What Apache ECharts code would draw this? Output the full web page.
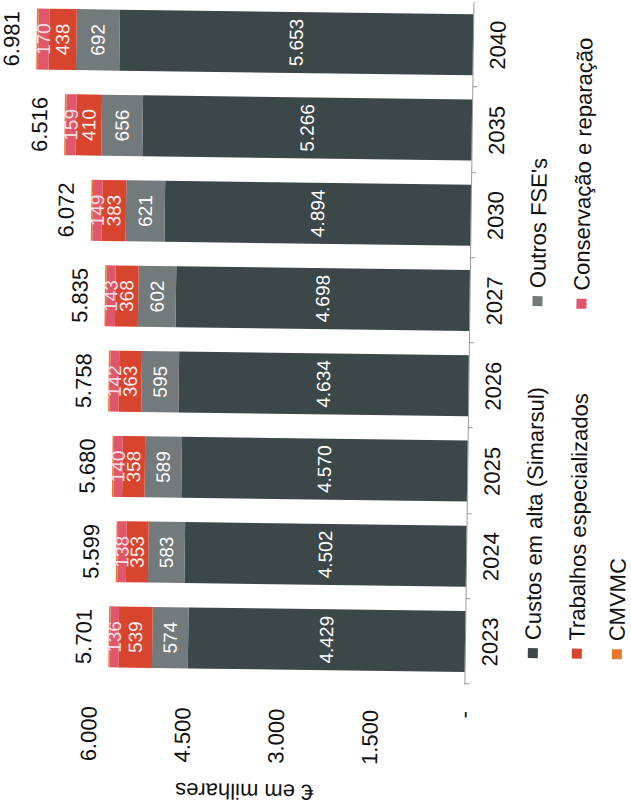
<!DOCTYPE html>
<html>
<head>
<meta charset="utf-8">
<script src="https://cdn.jsdelivr.net/npm/echarts@6/dist/echarts.min.js"></script>
<style>
html, body { margin: 0; padding: 0; background: #ffffff; overflow: hidden; }
#wrap { position: absolute; left: 0; top: 0; width: 812px; height: 631px;
        transform-origin: 0 0; transform: translateY(812px) rotate(-90deg); }
#chart { position: absolute; left: 0; top: -30px; width: 812px; height: 661px;
         transform-origin: 173px 330px; transform: rotate(0.76deg); }
</style>
</head>
<body>
<div id="wrap"><div id="chart"></div></div>
<script>
const categories = ['2023', '2024', '2025', '2026', '2027', '2030', '2035', '2040'];
const custosSimarsul = [4429, 4502, 4570, 4634, 4698, 4894, 5266, 5653];
const outrosFSE = [574, 583, 589, 595, 602, 621, 656, 692];
const trabalhosEsp = [539, 353, 358, 363, 368, 383, 410, 438];
const conservacao = [136, 138, 140, 142, 143, 149, 159, 170];
const cmvmc = [23, 23, 23, 24, 24, 25, 25, 28];
const totals = [5701, 5599, 5680, 5758, 5835, 6072, 6516, 6981];
const seriesNames = ['Custos em alta (Simarsul)', "Outros FSE's", 'Trabalhos especializados', 'Conservação e reparação', 'CMVMC'];

function fmt(v) {
  if (v === 0) return '-';
  const s = String(Math.round(v));
  return s.replace(/\B(?=(\d{3})+(?!\d))/g, '.');
}

const FONT = 'Liberation Sans, Arial, sans-serif';
const colors = ['#3b4749', '#737a7c', '#d8452f', '#e0566a', '#e8782a'];
const BW = 61;
const OFF = 30;

function segLabel(show, color) {
  return {
    show: show, position: 'inside', color: color || '#ffffff',
    fontFamily: FONT, fontSize: 19,
    formatter: p => fmt(p.value)
  };
}

const chart = echarts.init(document.getElementById('chart'), null, { renderer: 'svg' });

const legendRows = [
  { name: seriesNames[0], left: 157, top: 522 },
  { name: seriesNames[1], left: 509, top: 522 },
  { name: seriesNames[2], left: 157, top: 566 },
  { name: seriesNames[3], left: 507, top: 566 },
  { name: seriesNames[4], left: 157, top: 606 }
];

chart.setOption({
  animation: false,
  color: colors,
  grid: { left: 130, right: -3, top: 27.5 + OFF, bottom: 166 },
  legend: legendRows.map(r => ({
    data: [r.name], left: r.left, top: r.top + OFF, orient: 'horizontal',
    icon: 'rect', itemWidth: 10, itemHeight: 10, itemGap: 0, padding: 0,
    selectedMode: false,
    textStyle: { fontFamily: FONT, fontSize: 22, color: '#111', padding: [0, 0, 0, 3] }
  })),
  xAxis: {
    type: 'category', data: categories,
    axisLine: { show: true, lineStyle: { color: '#9a9a9a', width: 1 } },
    axisTick: { show: true, length: 5, alignWithLabel: false, lineStyle: { color: '#9a9a9a' } },
    axisLabel: { color: '#111', fontFamily: FONT, fontSize: 22, margin: 14 }
  },
  yAxis: {
    type: 'value', min: 0, max: 7000, interval: 1500,
    name: '€ em milhares', nameLocation: 'middle', nameGap: 99,
    nameTextStyle: { color: '#111', fontFamily: FONT, fontSize: 22 },
    axisLine: { show: false }, axisTick: { show: false },
    splitLine: { show: false },
    axisLabel: {
      color: '#111', fontFamily: FONT, fontSize: 22, margin: 27,
      showMaxLabel: false,
      formatter: v => (v > 6000 ? '' : fmt(v))
    }
  },
  series: [
    { name: seriesNames[0], type: 'bar', stack: 'c', barWidth: BW, data: custosSimarsul, label: segLabel(true) },
    { name: seriesNames[1], type: 'bar', stack: 'c', barWidth: BW, data: outrosFSE, label: segLabel(true) },
    { name: seriesNames[2], type: 'bar', stack: 'c', barWidth: BW, data: trabalhosEsp, label: segLabel(true, '#fbeeee') },
    { name: seriesNames[3], type: 'bar', stack: 'c', barWidth: BW, data: conservacao, label: segLabel(true, '#f8dde2') },
    { name: seriesNames[4], type: 'bar', stack: 'c', barWidth: BW, data: cmvmc, label: { show: false } },
    { name: 'Total', type: 'bar', barWidth: BW, barGap: '-100%', data: totals, z: 0,
      itemStyle: { color: 'rgba(0,0,0,0)' }, silent: true,
      label: { show: true, position: 'top', distance: 14, color: '#111', fontFamily: FONT, fontSize: 22,
               formatter: p => fmt(p.value) } }
  ]
});
</script>
</body>
</html>
